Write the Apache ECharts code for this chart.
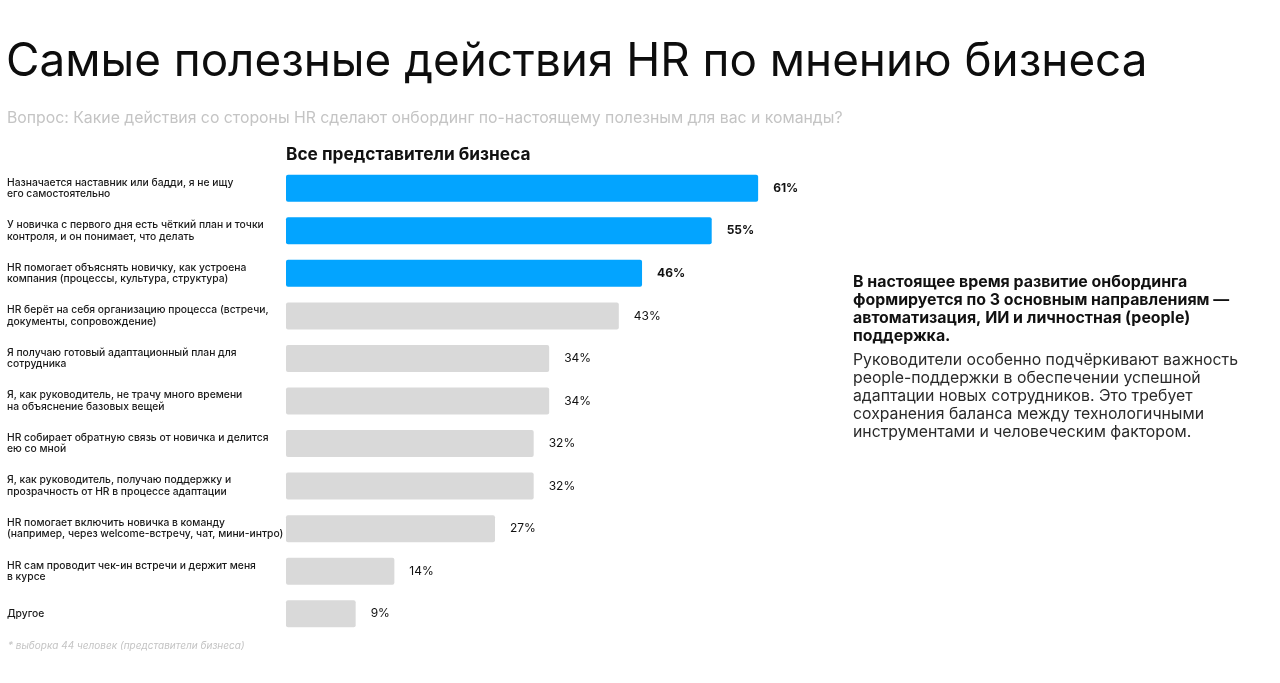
<!DOCTYPE html>
<html style="height: 100%">
<head>
  <meta charset="utf-8">
  <script type="text/javascript" src="https://cdn.jsdelivr.net/npm/echarts@6/dist/echarts.min.js"></script>
</head>
<body style="height: 100%; margin: 0; background: #fff">
  <div id="container" style="width: 1280px; height: 683px"></div>
  <script type="text/javascript">
    var categories = [
      "Назначается наставник или бадди, я не ищу\nего самостоятельно",
      "У новичка с первого дня есть чёткий план и точки\nконтроля, и он понимает, что делать",
      "HR помогает объяснять новичку, как устроена\nкомпания (процессы, культура, структура)",
      "HR берёт на себя организацию процесса (встречи,\nдокументы, сопровождение)",
      "Я получаю готовый адаптационный план для\nсотрудника",
      "Я, как руководитель, не трачу много времени\nна объяснение базовых вещей",
      "HR собирает обратную связь от новичка и делится\nею со мной",
      "Я, как руководитель, получаю поддержку и\nпрозрачность от HR в процессе адаптации",
      "HR помогает включить новичка в команду\n(например, через welcome-встречу, чат, мини-интро)",
      "HR сам проводит чек-ин встречи и держит меня\nв курсе",
      "Другое"
    ];
    var values = [61, 55, 46, 43, 34, 34, 32, 32, 27, 14, 9];
    var highlighted = [true, true, true, false, false, false, false, false, false, false, false];

    var FONT = "Inter, 'Noto Sans', sans-serif";
    var blue = '#03A4FF';
    var grey = '#D9D9D9';

    var barData = [];
    for (var i = 0; i < values.length; i++) {
      barData.push({
        value: values[i],
        itemStyle: { color: highlighted[i] ? blue : grey },
        label: { fontWeight: highlighted[i] ? 'bold' : 'normal' }
      });
    }

    var chart = echarts.init(document.getElementById('container'));
    var option = {
      backgroundColor: '#fff',
      animation: false,
      textStyle: { fontFamily: FONT },
      title: [{
        text: 'Самые полезные действия HR по мнению бизнеса',
        left: 6, top: 39, padding: 0,
        textStyle: { fontFamily: FONT, fontSize: 45.8, fontWeight: 'normal', color: '#0d0d0d' }
      }, {
        text: 'Вопрос: Какие действия со стороны HR сделают онбординг по-настоящему полезным для вас и команды?',
        left: 7, top: 110, padding: 0,
        textStyle: { fontFamily: FONT, fontSize: 15.8, fontWeight: 'normal', color: '#c4c4c4' }
      }, {
        text: 'Все представители бизнеса',
        left: 286, top: 146, padding: 0,
        textStyle: { fontFamily: FONT, fontSize: 17.3, fontWeight: 'bold', color: '#111' }
      }],
      grid: { left: 286, top: 167, width: 774, height: 468 },
      xAxis: {
        type: 'value', min: 0, max: 100,
        show: false
      },
      yAxis: {
        type: 'category',
        inverse: true,
        data: categories,
        axisLine: { show: false },
        axisTick: { show: false },
        axisLabel: {
          align: 'left',
          margin: 279,
          padding: [5, 0, 0, 0],
          fontFamily: FONT,
          fontSize: 10.3,
          fontWeight: 500,
          lineHeight: 11.5,
          color: '#1a1a1a'
        }
      },
      series: [{
        type: 'bar',
        data: barData,
        barWidth: 27,
        itemStyle: { borderRadius: 2 },
        label: {
          show: true,
          position: 'right',
          distance: 15,
          formatter: '{c}%',
          fontFamily: FONT,
          fontSize: 12,
          color: '#111'
        }
      }],
      graphic: [{
        type: 'text', left: 853, top: 273,
        style: {
          text: 'В настоящее время развитие онбординга\nформируется по 3 основным направлениям —\nавтоматизация, ИИ и личностная (people)\nподдержка.',
          font: 'bold 15.9px ' + FONT,
          lineHeight: 18,
          fill: '#111'
        }
      }, {
        type: 'text', left: 853, top: 351,
        style: {
          text: 'Руководители особенно подчёркивают важность\npeople-поддержки в обеспечении успешной\nадаптации новых сотрудников. Это требует\nсохранения баланса между технологичными\nинструментами и человеческим фактором.',
          font: '15.8px ' + FONT,
          lineHeight: 18,
          fill: '#2a2a2a'
        }
      }, {
        type: 'text', left: 8, top: 641,
        style: {
          text: '* выборка 44 человек (представители бизнеса)',
          font: 'italic 10px ' + FONT,
          fill: '#c4c4c4'
        }
      }]
    };
    chart.setOption(option);
  </script>
</body>
</html>
